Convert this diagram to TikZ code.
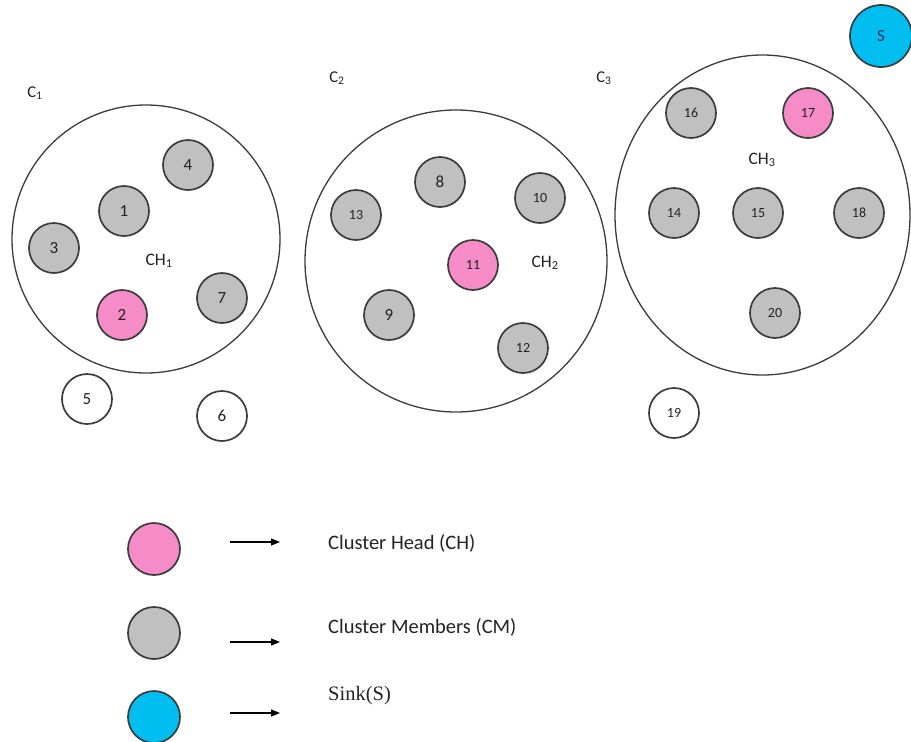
\documentclass[tikz,border=0pt]{standalone}
\usepackage{fontspec}
\setmainfont{Carlito}
\newfontfamily\serifsink{Liberation Serif}
\usetikzlibrary{arrows.meta}
\definecolor{chpink}{RGB}{245,140,200}
\definecolor{cmgray}{RGB}{192,192,192}
\definecolor{sinkblue}{RGB}{0,190,240}
\definecolor{edgec}{RGB}{60,60,60}
\definecolor{txt}{RGB}{35,35,35}
\begin{document}
\begin{tikzpicture}[x=1pt,y=-1pt,
  sn/.style={circle, draw=edgec, line width=1.7pt, minimum size=50pt, inner sep=0pt, text=txt},
  cmnode/.style={sn, fill=cmgray},
  chnode/.style={sn, fill=chpink},
  freenode/.style={sn, fill=white},
  sinknode/.style={sn, fill=sinkblue, minimum size=62pt},
  onedig/.style={font=\fontsize{17}{17}\selectfont},
  twodig/.style={font=\fontsize{14}{14}\selectfont},
  region/.style={draw=edgec, line width=1.3pt},
  lbl/.style={font=\fontsize{17.5}{17.5}\selectfont, text=txt, inner sep=0pt},
  clbl/.style={font=\fontsize{16.5}{16.5}\selectfont, text=txt, inner sep=0pt},
  legtext/.style={font=\fontsize{20.5}{20.5}\selectfont, text=txt, anchor=west, inner sep=0pt},
  legarrow/.style={-{Triangle[length=9pt,width=7pt]}, line width=1.2pt, black}
]
\useasboundingbox (0,0) rectangle (911,742);
\fill[white] (0,0) rectangle (911,742);

% cluster regions
\draw[region] (146,239) circle [radius=134];
\draw[region] (456,261) circle [radius=151];
\draw[region] (762.5,215) ellipse [x radius=147.5, y radius=160];

% cluster labels
\node[clbl] (lc1) at (35,93) {C\textsubscript{1}};
\node[clbl] (lc2) at (337,78) {C\textsubscript{2}};
\node[clbl] (lc3) at (604,78) {C\textsubscript{3}};
\node[lbl] (lch1) at (159,261) {CH\textsubscript{1}};
\node[lbl] (lch2) at (545,263) {CH\textsubscript{2}};
\node[lbl] (lch3) at (762,160) {CH\textsubscript{3}};

% cluster 1
\node[cmnode, onedig] (n4) at (188,165) {4};
\node[cmnode, onedig] (n1) at (124,211) {1};
\node[cmnode, onedig] (n3) at (54,248) {3};
\node[cmnode, onedig] (n7) at (222,298) {7};
\node[chnode, onedig] (n2) at (122,315) {2};
\node[freenode, onedig] (n5) at (87,399) {5};
\node[freenode, onedig] (n6) at (222,416) {6};

% cluster 2
\node[cmnode, onedig] (n8) at (440,182) {8};
\node[cmnode, twodig] (n10) at (540,198) {10};
\node[cmnode, twodig] (n13) at (356,215) {13};
\node[chnode, twodig] (n11) at (473,265) {11};
\node[cmnode, onedig] (n9) at (389,315) {9};
\node[cmnode, twodig] (n12) at (523,348) {12};

% cluster 3
\node[cmnode, twodig] (n16) at (691,113) {16};
\node[chnode, twodig] (n17) at (808,113) {17};
\node[cmnode, twodig] (n14) at (674,213) {14};
\node[cmnode, twodig] (n15) at (758,213) {15};
\node[cmnode, twodig] (n18) at (859,213) {18};
\node[cmnode, twodig] (n20) at (775,313) {20};
\node[freenode, twodig] (n19) at (674,413) {19};

% sink
\node[sinknode, onedig, text={rgb,255:red,20;green,50;blue,90}] (sink) at (881,36) {S};

% legend
\node[chnode, minimum size=52pt] (legch) at (154,549) {};
\node[cmnode, minimum size=52pt] (legcm) at (154,633) {};
\node[sinknode, minimum size=52pt] (legs) at (154,717) {};

\coordinate (a1s) at (230,542); \coordinate (a1e) at (280,542);
\coordinate (a2s) at (230,642); \coordinate (a2e) at (280,642);
\coordinate (a3s) at (230,713); \coordinate (a3e) at (280,713);
\draw[legarrow] (a1s) -- (a1e);
\draw[legarrow] (a2s) -- (a2e);
\draw[legarrow] (a3s) -- (a3e);

\node[legtext] (t1) at (328,543) {Cluster Head (CH)};
\node[legtext] (t2) at (328,627) {Cluster Members (CM)};
\node[legtext, font=\serifsink\fontsize{20.5}{20.5}\selectfont] (t3) at (328,696) {Sink(S)};
\end{tikzpicture}
\end{document}
